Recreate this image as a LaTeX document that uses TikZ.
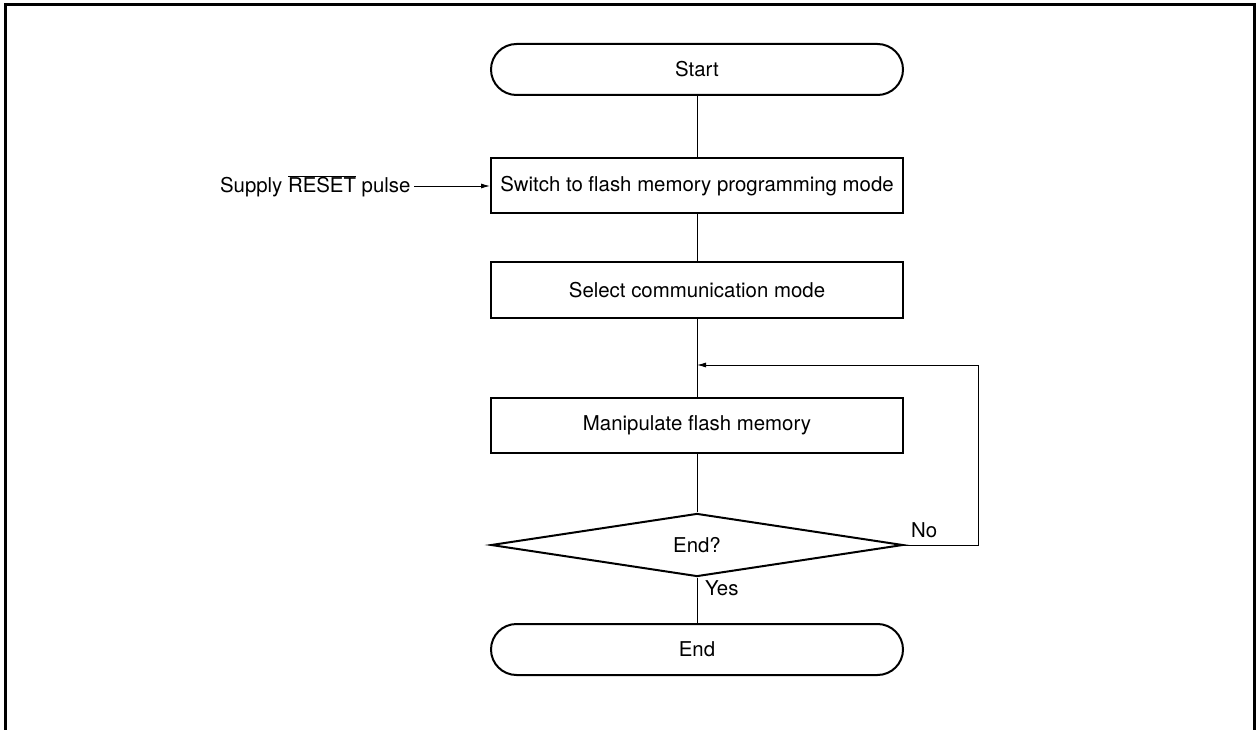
\documentclass[tikz,border=0pt]{standalone}
\usepackage{fontspec}
\setmainfont{TeX Gyre Heros}
\usetikzlibrary{shapes.geometric,arrows.meta,positioning}

\begin{document}
\begin{tikzpicture}[
  x=1pt, y=-1pt,
  font=\fontsize{20.4}{24}\selectfont,
  proc/.style={draw, line width=2pt, minimum width=412pt, minimum height=55pt, inner sep=0pt},
  term/.style={proc, rounded corners=25.5pt, minimum height=51pt},
  dec/.style={draw, diamond, line width=2pt, minimum width=412pt, minimum height=58pt, inner sep=0pt},
  ln/.style={line width=0.9pt},
  ar/.style={ln, -{Latex[length=9pt, width=5pt]}}
]
\useasboundingbox (0,0) rectangle (1259,730);
% outer frame, open at the bottom
\draw[line width=3pt] (5,730) -- (5,4.5) -- (1254,4.5) -- (1254,730);

\node[term] (start) at (697,69.5) {Start};
\node[proc] (switch) at (697,186) {Switch to flash memory programming mode};
\node[proc] (select) at (697,290) {Select communication mode};
\node[proc] (manip) at (697,425) {Manipulate flash memory};
\node[dec] (chk) at (697,545) {End?};
\node[term] (stop) at (697,649.5) {End};

\node[anchor=east] (rstlbl) at (414,186) {Supply $\overline{\hbox{RESET}}$ pulse};
\node[anchor=south west, inner sep=7pt] (nolbl) at (chk.east) {No};
\node[anchor=north west, inner sep=3pt, xshift=5pt] (yeslbl) at (chk.south) {Yes};

\coordinate (loopin) at (697,365);
\coordinate (loopr) at (978,365);

\draw[ln] (start) -- (switch);
\draw[ln] (switch) -- (select);
\draw[ln] (select) -- (manip);
\draw[ln] (manip) -- (chk);
\draw[ln] (chk) -- (stop);
\draw[ar] (rstlbl) -- (switch);
\draw[ar] (chk.east) -| (loopr) -- (loopin);
\end{tikzpicture}
\end{document}
